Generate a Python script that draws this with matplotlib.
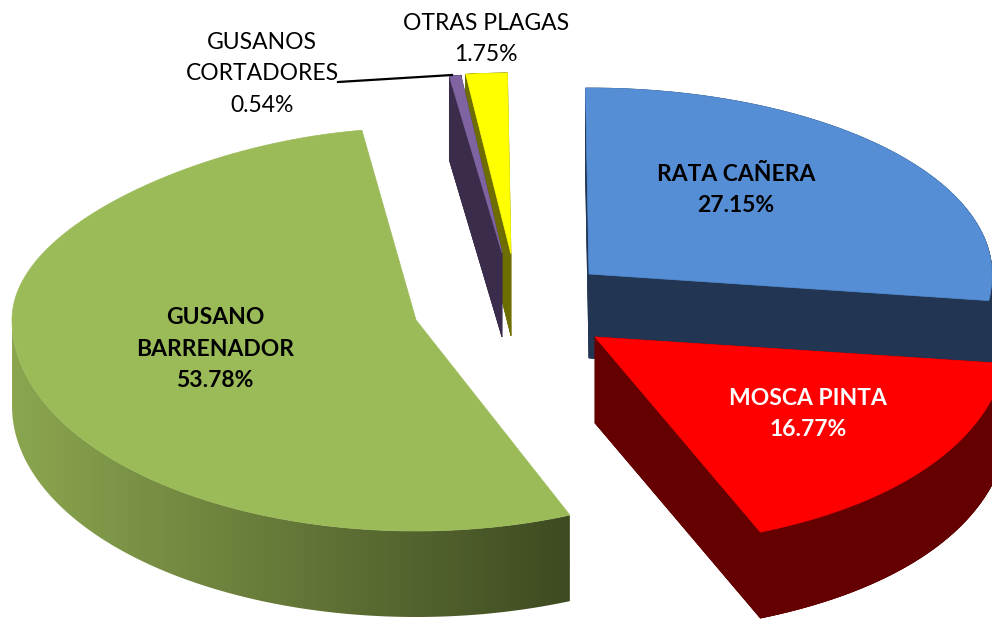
import numpy as np
import matplotlib
matplotlib.use("Agg")
import matplotlib.pyplot as plt
from matplotlib.colors import LinearSegmentedColormap
from matplotlib.patches import Polygon

plt.rcParams['font.family'] = ['Lato', 'DejaVu Sans']

# chart data, clockwise from twelve o'clock
names = ["RATA CAÑERA", "MOSCA PINTA", "GUSANO\nBARRENADOR",
         "GUSANOS\nCORTADORES", "OTRAS PLAGAS"]
values = [27.15, 16.77, 53.78, 0.54, 1.75]

# look of each slice
top_colors = ["#558ed5", "#ff0000", "#9bbb59", "#8064a2", "#ffff00"]
side_colors = ["#223654", "#640000", None, "#3a2c4a", "#6e6e00"]

# exploded slice placement in pixels: apex x, apex y, rx, ry up, ry down, depth
apex_x = [589, 595, 416, 502, 511]
apex_y = [274, 337, 320, 253, 254]
radius_x = [403, 413, 404, 345, 380]
radius_up = [186, 186, 192, 179, 181]
radius_down = [211, 211, 211, 211, 211]
depth = [84, 86, 86, 84, 82]
# perspective: far part of the pie is narrower, near part wider
taper_up = [0, 0, -0.125, 0, 0]
taper_down = [0, 0.06, 0, 0, 0]

START_ANGLE = -0.5
GREEN_LIGHT = "#8ba64f"
GREEN_DARK = "#3e4a21"


def slice_outline(i, a0, a1):
    """Arc of slice i between angles a0 and a1 (degrees from the top)."""
    ang = np.radians(np.linspace(a0, a1, 240))
    cos = np.cos(ang)
    ry = np.where(cos > 0, radius_up[i], radius_down[i])
    taper = np.where(cos > 0, taper_up[i], taper_down[i])
    x = apex_x[i] + radius_x[i] * np.sin(ang) * (1 + taper * cos ** 2)
    y = apex_y[i] - ry * cos
    return np.column_stack([x, y])


def draw_side(ax, i, poly):
    """Flat extruded wall of a slice, pushed down by its depth."""
    pts = np.vstack([poly, poly[:1]])
    shift = np.array([0, depth[i]])
    col = side_colors[i]
    ax.add_patch(Polygon(poly + shift, closed=True, fc=col, ec=col, lw=0.5))
    for k in range(len(pts) - 1):
        quad = [pts[k], pts[k + 1], pts[k + 1] + shift, pts[k] + shift]
        ax.add_patch(Polygon(quad, closed=True, fc=col, ec=col, lw=0.5))


def draw_gradient_side(ax, i, arc):
    """Green wall, fading left to right along the front of the slice."""
    front = arc[arc[:, 1] > apex_y[i]]
    shift = np.array([0, depth[i]])
    wall = Polygon(np.vstack([front, (front + shift)[::-1]]), closed=True,
                   transform=ax.transData, fc="none", ec="none")
    ax.add_patch(wall)
    cmap = LinearSegmentedColormap.from_list("wall", [GREEN_LIGHT, GREEN_DARK])
    x0, x1 = front[:, 0].min(), front[:, 0].max()
    img = ax.imshow(np.linspace(0, 1, 256)[None, :], cmap=cmap, aspect="auto",
                    extent=[x0, x1, 619, 0], interpolation="bilinear")
    img.set_clip_path(wall)


fig = plt.figure(figsize=(9.92, 6.19), dpi=100)
ax = fig.add_axes([0, 0, 1, 1])
ax.axis("off")

angles = START_ANGLE + np.concatenate([[0], np.cumsum(values)]) * 3.6
arcs = [slice_outline(i, angles[i], angles[i + 1]) for i in range(len(values))]
outlines = [np.vstack([[apex_x[i], apex_y[i]], arcs[i]])
            for i in range(len(values))]


def draw_top(i):
    ax.add_patch(Polygon(outlines[i], closed=True, fc=top_colors[i],
                         ec=top_colors[i], lw=0.5))


draw_side(ax, 0, outlines[0])
draw_top(0)
draw_side(ax, 1, outlines[1])
draw_top(1)
draw_gradient_side(ax, 2, arcs[2])
draw_top(2)
# yellow wall sits behind the purple slice, yellow top in front of it
draw_side(ax, 4, outlines[4])
draw_side(ax, 3, outlines[3])
draw_top(3)
draw_top(4)

ax.plot([338, 452], [82, 75], color="black", lw=1.6)

ax.set_xlim(0, 992)
ax.set_ylim(619, 0)

FS = 16.5
kw = dict(ha="center", va="center", fontsize=FS, linespacing=1.64)
ax.text(736, 190, f"{names[0]}\n{values[0]:.2f}%", fontweight="bold",
        color="black", **kw)
ax.text(808, 414, f"{names[1]}\n{values[1]:.2f}%", fontweight="bold",
        color="white", **kw)
ax.text(215, 349, f"{names[2]}\n{values[2]:.2f}%", fontweight="bold",
        color="black", **kw)
ax.text(262, 74, f"{names[3]}\n{values[3]:.2f}%", color="black", **kw)
ax.text(486, 39, f"{names[4]}\n{values[4]:.2f}%", color="black", **kw)

fig.savefig("out.png", dpi=100)
